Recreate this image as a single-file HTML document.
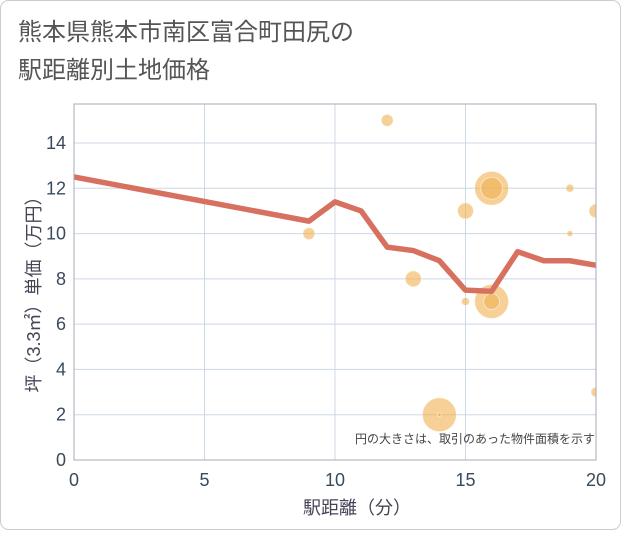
<!DOCTYPE html>
<html><head><meta charset="utf-8"><style>
body{margin:0;background:#fff}
svg text{font-family:"Liberation Sans","Noto Sans CJK JP",sans-serif}
</style></head><body>
<svg id="c" width="621" height="530" xmlns="http://www.w3.org/2000/svg">
<defs><clipPath id="pc"><rect x="74" y="104" width="522" height="356"/></clipPath></defs>
<rect x="0.5" y="0.5" width="620" height="529" rx="8" fill="#fff" stroke="#ccc"/>
<text x="18" y="40" font-size="24" fill="#555">熊本県熊本市南区富合町田尻の</text>
<text x="18" y="78" font-size="24" fill="#555">駅距離別土地価格</text>
<g id="grid"></g>
<g id="bubbles" clip-path="url(#pc)"></g>
<g id="line" clip-path="url(#pc)"></g>
<g id="axes"></g>
<text x="595" y="443" font-size="12" fill="#444" text-anchor="end">円の大きさは、取引のあった物件面積を示す</text>
<text x="357" y="514" font-size="18" fill="#445" text-anchor="middle">駅距離（分）</text>
<text transform="translate(40,290) rotate(-90)" font-size="18" fill="#445" text-anchor="middle">坪（3.3㎡）単価（万円）</text>
</svg>
<script>
const xTicks=[0,5,10,15,20];
const yTicks=[0,2,4,6,8,10,12,14];
const lineX=[0,9,10,11,12,13,14,15,16,17,18,19,20];
const lineY=[12.5,10.55,11.4,11.0,9.4,9.25,8.8,7.5,7.45,9.2,8.8,8.8,8.6];
const bubX=[9,12,13,14,14,15,15,16,16,16,16,19,19,20,20];
const bubY=[10,15,8,2,2,11,7,12,12,7,7,12,10,11,3];
const bubR=[6,6,8,17,2,8,4,17,11,17,8,4,3,7,5];
const X0=74,X1=596,Y0=460,Y1=104;
const sx=v=>X0+(X1-X0)*v/20;
const sy=v=>Y0-(Y0-143)*v/14;
const NS="http://www.w3.org/2000/svg";
function mk(t,a,p){const e=document.createElementNS(NS,t);for(const k in a)e.setAttribute(k,a[k]);p.appendChild(e);return e;}
const g=document.getElementById('grid'),ax=document.getElementById('axes');
xTicks.forEach(t=>{const l=mk('line',{x1:sx(t),x2:sx(t),y1:Y1,y2:Y0,stroke:'#cdd8e6','stroke-width':1},g);


const tx=mk('text',{x:sx(t),y:Y0+26,'font-size':18,fill:'#3a4a5c','text-anchor':'middle'},ax);tx.textContent=t;

});
yTicks.forEach(t=>{const l=mk('line',{x1:X0,x2:X1,y1:sy(t),y2:sy(t),stroke:'#cdd8e6','stroke-width':1},g);


const tx=mk('text',{x:X0-8,y:sy(t)+6,'font-size':18,fill:'#3a4a5c','text-anchor':'end'},ax);tx.textContent=t;

});
const fr=mk('rect',{x:X0,y:Y1,width:X1-X0,height:Y0-Y1,fill:'none',stroke:'#aab',"stroke-width":1},ax);


const b=document.getElementById('bubbles');
bubX.forEach((v,i)=>{const c=mk('circle',{cx:sx(v),cy:sy(bubY[i]),r:bubR[i],fill:'#f0b050','fill-opacity':0.6,stroke:'#fff','stroke-opacity':0.5},b);

});
const pl=mk('polyline',{points:lineX.map((v,i)=>sx(v)+','+sy(lineY[i])).join(' '),fill:'none',stroke:'#d87060','stroke-width':5.5,'stroke-linejoin':'round'},document.getElementById('line'));


</script>
</body></html>
